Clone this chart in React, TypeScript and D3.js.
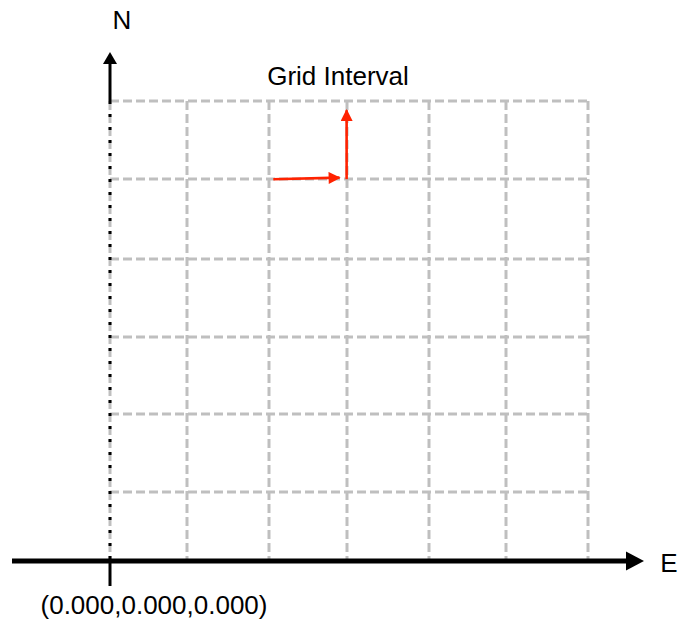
import React, { useEffect, useRef } from 'react';
import * as d3 from 'd3';

// grid line positions (grid units)
const eastLines = [0, 0.97, 2, 2.97, 4, 4.97, 6];
const northLines = [0.9, 1.92, 2.92, 3.94, 4.98, 6];

// the two red "grid interval" arrows: [x1, y1, x2, y2]
const intervalArrows: [number, number, number, number][] = [
  [2.05, 4.98, 2.88, 5.0],
  [2.97, 4.98, 2.97, 5.88],
];

const axisLabels = { east: 'E', north: 'N' };
const titleText = 'Grid Interval';
const originText = '(0.000,0.000,0.000)';

const FONT = 'Arial, "Liberation Sans", sans-serif';

const App: React.FC = () => {
  const svgRef = useRef<SVGSVGElement>(null);

  useEffect(() => {
    if (!svgRef.current) return;
    const svg = d3.select(svgRef.current);
    svg.selectAll('*').remove();

    const x = d3.scaleLinear().domain([0, 6]).range([110, 588]);
    const y = d3.scaleLinear().domain([0, 6]).range([561, 101]);

    const defs = svg.append('defs');
    defs.append('marker')
      .attr('id', 'redHead')
      .attr('viewBox', '0 0 10 10')
      .attr('refX', 9)
      .attr('refY', 5)
      .attr('markerUnits', 'userSpaceOnUse')
      .attr('markerWidth', 14)
      .attr('markerHeight', 12)
      .attr('orient', 'auto')
      .append('path')
      .attr('d', 'M0,0 L10,5 L0,10 Z')
      .attr('fill', '#ff2200');

    // Dashed grid
    const grid = svg.append('g')
      .attr('stroke', '#bfbfbf')
      .attr('stroke-width', 3)
      .attr('stroke-dasharray', '9,4')
      .attr('fill', 'none');

    grid.selectAll('line.v')
      .data(eastLines)
      .enter()
      .append('line')
      .attr('class', 'v')
      .attr('x1', d => Math.round(x(d)))
      .attr('x2', d => Math.round(x(d)))
      .attr('y1', y(6))
      .attr('y2', y(0));

    grid.selectAll('line.h')
      .data(northLines)
      .enter()
      .append('line')
      .attr('class', 'h')
      .attr('x1', x(0))
      .attr('x2', x(6))
      .attr('y1', d => Math.round(y(d)))
      .attr('y2', d => Math.round(y(d)));

    // North axis: solid above the grid, dotted along it, solid stub below
    svg.append('line')
      .attr('x1', x(0)).attr('x2', x(0))
      .attr('y1', y(6)).attr('y2', 64)
      .attr('stroke', '#000').attr('stroke-width', 3);
    svg.append('path')
      .attr('d', `M${x(0) - 7},64 L${x(0)},52 L${x(0) + 7},64 Z`)
      .attr('fill', '#000');
    svg.append('line')
      .attr('x1', x(0)).attr('x2', x(0))
      .attr('y1', y(6)).attr('y2', y(0))
      .attr('stroke', '#000').attr('stroke-width', 3)
      .attr('stroke-dasharray', '3,10');
    svg.append('line')
      .attr('x1', x(0)).attr('x2', x(0))
      .attr('y1', y(0)).attr('y2', 586)
      .attr('stroke', '#000').attr('stroke-width', 3);

    // East axis
    svg.append('line')
      .attr('x1', 12).attr('x2', 627)
      .attr('y1', y(0)).attr('y2', y(0))
      .attr('stroke', '#000').attr('stroke-width', 5);
    svg.append('path')
      .attr('d', `M626,${y(0) - 9.5} L644,${y(0)} L626,${y(0) + 9.5} Z`)
      .attr('fill', '#000');

    // Red interval arrows
    svg.selectAll('line.interval')
      .data(intervalArrows)
      .enter()
      .append('line')
      .attr('class', 'interval')
      .attr('x1', d => x(d[0]))
      .attr('y1', d => y(d[1]))
      .attr('x2', d => x(d[2]))
      .attr('y2', d => y(d[3]))
      .attr('stroke', '#ff2200')
      .attr('stroke-width', 2.6)
      .attr('marker-end', 'url(#redHead)');

    // Labels
    const text = svg.append('g')
      .style('font-family', FONT)
      .attr('fill', '#000');

    text.append('text')
      .attr('x', 122).attr('y', 29)
      .attr('text-anchor', 'middle')
      .style('font-size', '26px')
      .text(axisLabels.north);

    text.append('text')
      .attr('x', 669).attr('y', 572)
      .attr('text-anchor', 'middle')
      .style('font-size', '26px')
      .text(axisLabels.east);

    text.append('text')
      .attr('x', 338).attr('y', 85)
      .attr('text-anchor', 'middle')
      .style('font-size', '26px')
      .text(titleText);

    text.append('text')
      .attr('x', 154).attr('y', 614)
      .attr('text-anchor', 'middle')
      .style('font-size', '26px')
      .text(originText);
  }, []);

  return (
    <svg
      ref={svgRef}
      width={688}
      height={621}
      style={{ position: 'absolute', left: 0, top: 0, background: '#fff' }}
    />
  );
};

export default App;
